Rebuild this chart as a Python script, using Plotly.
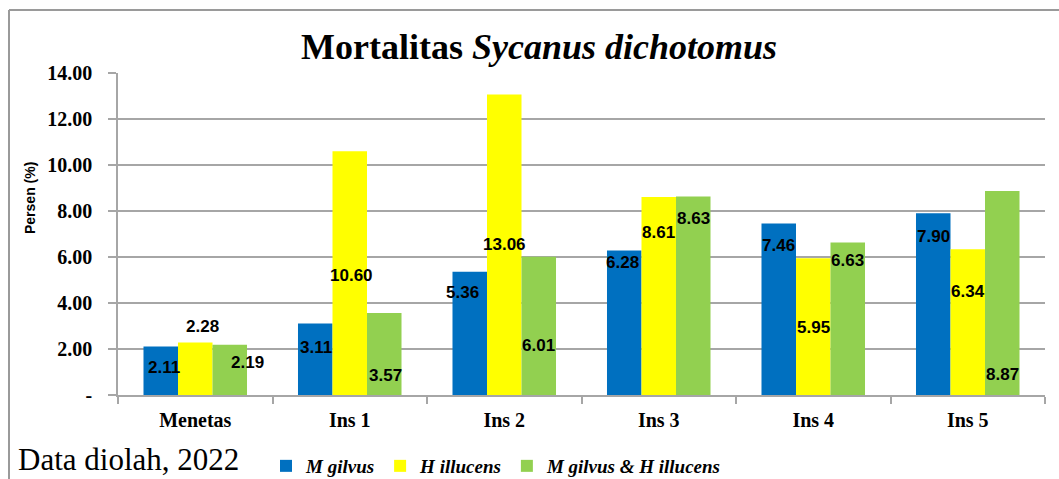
import plotly.graph_objects as go

# ---------------- data ----------------
categories = ["Menetas", "Ins 1", "Ins 2", "Ins 3", "Ins 4", "Ins 5"]
m_gilvus = [2.11, 3.11, 5.36, 6.28, 7.46, 7.90]
h_illucens = [2.28, 10.60, 13.06, 8.61, 5.95, 6.34]
m_gilvus_h_illucens = [2.19, 3.57, 6.01, 8.63, 6.63, 8.87]
series_names = ["M gilvus", "H illucens", "M gilvus & H illucens"]
y_tickvals = [0, 2, 4, 6, 8, 10, 12, 14]
y_ticktext = ["-", "2.00", "4.00", "6.00", "8.00", "10.00", "12.00", "14.00"]

# ---------------- style ----------------
colors = ["#0070C0", "#FFFF00", "#92D050"]
# where each data label sits, as a fraction of its bar's height (style only)
label_frac = [
    [0.56, 0.66, 0.83, 0.92, 0.87, 0.87],
    [1.30, 0.49, 0.50, 0.82, 0.49, 0.71],
    [0.64, 0.24, 0.36, 0.89, 0.88, 0.10],
]
label_dx = [
    [3, 1, -7, -2, 0, 0],
    [7, 2, 0, 0, 0, 0],
    [18, 1, 0, 0, 0, 0],
]

W, H = 1059, 479
ML, MR, MT, MB = 118, 14, 73, 84
BARGAP = 0.33
plot_w = W - ML - MR
plot_h = H - MT - MB
bar_w = plot_w / len(categories) * (1 - BARGAP) / len(series_names)

SERIF = "Liberation Serif, Times New Roman, serif"
SANS = "Liberation Sans"
GRID = "#A6A6A6"

series_values = [m_gilvus, h_illucens, m_gilvus_h_illucens]

fig = go.Figure()
for name, vals, col in zip(series_names, series_values, colors):
    fig.add_trace(go.Bar(
        x=categories, y=vals, name=name,
        marker=dict(color=col, line=dict(width=0)),
        hoverinfo="x+y+name",
    ))

annotations = []
for k, vals in enumerate(series_values):
    for i, v in enumerate(vals):
        annotations.append(dict(
            x=categories[i], y=v * label_frac[k][i], xref="x", yref="y",
            xshift=(k - 1) * bar_w + label_dx[k][i],
            text=f"{v:.2f}", showarrow=False,
            font=dict(family=SANS, size=17, color="black", weight="bold"),
            xanchor="center", yanchor="middle",
        ))

annotations.append(dict(
    text="Persen (%)", textangle=-90, showarrow=False,
    xref="paper", yref="paper",
    x=(30 - ML) / plot_w, y=(H - MB - 198) / plot_h,
    xanchor="center", yanchor="middle",
    font=dict(family=SANS, size=14, color="black", weight="bold"),
))
annotations.append(dict(
    text="Data diolah, 2022", showarrow=False,
    xref="paper", yref="paper",
    x=(16 - ML) / plot_w, y=(H - MB - 460) / plot_h,
    xanchor="left", yanchor="middle",
    font=dict(family=SERIF, size=31, color="black"),
))

shapes = [
    dict(type="line", xref="paper", yref="paper",
         x0=(9 - ML) / plot_w, x1=(W + 5 - ML) / plot_w,
         y0=(H - MB - 10) / plot_h, y1=(H - MB - 10) / plot_h,
         line=dict(color="#9A9A9A", width=2)),
    dict(type="line", xref="paper", yref="paper",
         x0=(9 - ML) / plot_w, x1=(9 - ML) / plot_w,
         y0=(H - MB - 10) / plot_h, y1=(H - MB - H - 5) / plot_h,
         line=dict(color="#9A9A9A", width=2)),
]

fig.update_layout(
    width=W, height=H,
    margin=dict(l=ML, r=MR, t=MT, b=MB, autoexpand=False),
    paper_bgcolor="white", plot_bgcolor="white",
    barmode="group", bargap=BARGAP, bargroupgap=0,
    title=dict(
        text="<b>Mortalitas <i>Sycanus dichotomus</i></b>",
        x=539 / W, xref="container", xanchor="center",
        y=1 - 46 / H, yref="container", yanchor="middle",
        font=dict(family=SERIF, size=36, color="black"),
    ),
    xaxis=dict(
        showline=True, linecolor=GRID, linewidth=1.5,
        ticks="outside", ticklen=7, tickcolor=GRID, tickwidth=1.5,
        tickson="boundaries", ticklabelstandoff=6,
        tickfont=dict(family=SERIF, size=20, color="black", weight="bold"),
        showgrid=False, fixedrange=True,
    ),
    yaxis=dict(
        range=[0, 14], tickvals=y_tickvals, ticktext=y_ticktext,
        showline=True, linecolor=GRID, linewidth=1.5,
        ticks="outside", ticklen=8, tickcolor=GRID, tickwidth=1.5,
        ticklabelstandoff=12,
        showgrid=True, gridcolor=GRID, gridwidth=1.5,
        zeroline=False,
        tickfont=dict(family=SERIF, size=20, color="black", weight="bold"),
        fixedrange=True,
    ),
    legend=dict(
        orientation="h", x=(266 - ML) / plot_w, y=(H - MB - 466) / plot_h,
        xanchor="left", yanchor="middle", itemwidth=30,
        font=dict(family=SERIF, size=19, color="black", weight="bold", style="italic"),
        bgcolor="rgba(0,0,0,0)", traceorder="normal",
    ),
    annotations=annotations,
    shapes=shapes,
)

fig.write_html(
    "out.html",
    config={"displayModeBar": False},
    post_script="document.body.style.margin='0';document.body.style.overflow='hidden';",
)
